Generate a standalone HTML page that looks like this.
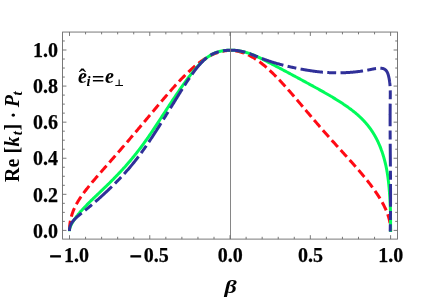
<!DOCTYPE html>
<html><head><meta charset="utf-8"><title>plot</title>
<style>
html,body{margin:0;padding:0;background:#fff;}
body{width:429px;height:298px;overflow:hidden;}
svg{display:block;}
.it{font-style:italic;}
</style></head><body>
<svg width="429" height="298" viewBox="0 0 429 298">
<rect width="429" height="298" fill="#fff"/>
<g fill="none" stroke-linecap="butt" stroke-linejoin="round">
<path d="M69.50,231.40 L69.50,230.40 L69.50,229.92 L69.51,229.44 L69.52,228.96 L69.54,228.48 L69.56,228.00 L69.58,227.52 L69.61,227.04 L69.64,226.56 L69.68,226.08 L69.72,225.60 L69.77,225.12 L69.82,224.64 L69.87,224.17 L69.93,223.69 L70.00,223.21 L70.06,222.74 L70.14,222.26 L70.21,221.78 L70.30,221.31 L70.38,220.84 L70.47,220.36 L70.57,219.89 L70.67,219.42 L70.77,218.95 L70.88,218.48 L70.99,218.01 L71.11,217.54 L71.23,217.07 L71.35,216.61 L71.48,216.14 L71.62,215.67 L71.76,215.21 L71.90,214.74 L72.05,214.28 L72.20,213.82 L72.35,213.36 L72.51,212.90 L72.68,212.44 L72.85,211.98 L73.02,211.52 L73.20,211.06 L73.38,210.60 L73.57,210.15 L73.76,209.69 L73.95,209.23 L74.15,208.78 L74.35,208.32 L74.56,207.87 L74.77,207.42 L74.99,206.96 L75.21,206.51 L75.43,206.06 L75.66,205.61 L75.90,205.16 L76.13,204.70 L76.38,204.25 L76.62,203.80 L76.87,203.35 L77.13,202.90 L77.38,202.45 L77.65,201.99 L77.91,201.54 L78.18,201.09 L78.46,200.64 L78.74,200.19 L79.02,199.73 L79.31,199.28 L79.60,198.82 L79.90,198.37 L80.20,197.91 L80.50,197.46 L80.81,197.00 L81.12,196.54 L81.44,196.08 L81.76,195.62 L82.09,195.16 L82.42,194.70 L82.75,194.24 L83.08,193.77 L83.43,193.31 L83.77,192.84 L84.12,192.37 L84.47,191.90 L84.83,191.43 L85.19,190.95 L85.56,190.48 L85.93,190.00 L86.30,189.52 L86.68,189.04 L87.06,188.55 L87.44,188.07 L87.83,187.58 L88.22,187.09 L88.62,186.60 L89.02,186.11 L89.42,185.61 L89.83,185.11 L90.24,184.61 L90.66,184.10 L91.08,183.60 L91.50,183.09 L91.93,182.58 L92.36,182.06 L92.80,181.54 L93.24,181.02 L93.68,180.50 L94.12,179.97 L94.57,179.45 L95.03,178.91 L95.49,178.38 L95.95,177.84 L96.41,177.30 L96.88,176.75 L97.35,176.21 L97.83,175.66 L98.31,175.10 L98.79,174.54 L99.28,173.98 L99.77,173.42 L100.26,172.85 L100.76,172.28 L101.26,171.71 L101.76,171.13 L102.27,170.55 L102.78,169.96 L103.30,169.37 L103.82,168.78 L104.34,168.19 L104.87,167.59 L105.39,166.98 L105.93,166.38 L106.46,165.77 L107.00,165.15 L107.54,164.53 L108.09,163.91 L108.64,163.29 L109.19,162.66 L109.75,162.02 L110.31,161.39 L110.87,160.75 L111.44,160.10 L112.00,159.45 L112.58,158.80 L113.15,158.15 L113.73,157.48 L114.31,156.82 L114.90,156.15 L115.49,155.48 L116.08,154.80 L116.67,154.12 L117.27,153.44 L117.87,152.75 L118.48,152.06 L119.08,151.36 L119.69,150.66 L120.31,149.96 L120.92,149.25 L121.54,148.54 L122.16,147.82 L122.79,147.10 L123.42,146.38 L124.05,145.65 L124.68,144.91 L125.32,144.18 L125.96,143.43 L126.60,142.69 L127.25,141.94 L127.89,141.19 L128.54,140.43 L129.20,139.66 L129.85,138.90 L130.51,138.13 L131.18,137.35 L131.84,136.58 L132.51,135.79 L133.18,135.01 L133.85,134.22 L134.53,133.42 L135.20,132.62 L135.89,131.82 L136.57,131.01 L137.25,130.20 L137.94,129.39 L138.63,128.57 L139.33,127.75 L140.02,126.92 L140.72,126.09 L141.42,125.26 L142.13,124.42 L142.83,123.58 L143.54,122.74 L144.25,121.89 L144.96,121.04 L145.68,120.18 L146.40,119.33 L147.12,118.46 L147.84,117.60 L148.56,116.73 L149.29,115.87 L150.02,114.99 L150.75,114.12 L151.48,113.24 L152.22,112.36 L152.96,111.48 L153.70,110.59 L154.44,109.71 L155.18,108.82 L155.93,107.93 L156.67,107.04 L157.42,106.14 L158.18,105.25 L158.93,104.35 L159.69,103.46 L160.44,102.56 L161.20,101.66 L161.97,100.76 L162.73,99.86 L163.49,98.96 L164.26,98.06 L165.03,97.17 L165.80,96.27 L166.57,95.37 L167.35,94.47 L168.12,93.58 L168.90,92.69 L169.68,91.79 L170.46,90.90 L171.25,90.02 L172.03,89.13 L172.82,88.25 L173.60,87.37 L174.39,86.49 L175.18,85.62 L175.97,84.75 L176.77,83.88 L177.56,83.02 L178.36,82.17 L179.16,81.32 L179.96,80.47 L180.76,79.63 L181.56,78.80 L182.36,77.97 L183.17,77.14 L183.97,76.33 L184.78,75.52 L185.59,74.72 L186.40,73.93 L187.21,73.14 L188.02,72.37 L188.84,71.60 L189.65,70.84 L190.47,70.09 L191.28,69.35 L192.10,68.62 L192.92,67.90 L193.74,67.19 L194.56,66.49 L195.38,65.80 L196.20,65.12 L197.03,64.46 L197.85,63.80 L198.68,63.16 L199.50,62.54 L200.33,61.92 L201.16,61.32 L201.99,60.73 L202.82,60.16 L203.65,59.60 L204.48,59.05 L205.31,58.52 L206.14,58.01 L206.97,57.50 L207.81,57.02 L208.64,56.55 L209.48,56.10 L210.31,55.66 L211.15,55.24 L211.98,54.83 L212.82,54.44 L213.66,54.07 L214.50,53.72 L215.33,53.38 L216.17,53.07 L217.01,52.77 L217.85,52.48 L218.69,52.22 L219.53,51.97 L220.37,51.74 L221.21,51.54 L222.05,51.34 L222.90,51.17 L223.74,51.02 L224.58,50.89 L225.42,50.77 L226.26,50.68 L227.10,50.60 L227.94,50.54 L228.79,50.50 L229.63,50.48 L230.47,50.48 L231.31,50.50 L232.16,50.54 L233.00,50.60 L233.84,50.68 L234.68,50.78 L235.52,50.89 L236.36,51.03 L237.20,51.18 L238.05,51.35 L238.89,51.55 L239.73,51.76 L240.57,51.99 L241.41,52.23 L242.25,52.50 L243.09,52.79 L243.93,53.09 L244.77,53.41 L245.60,53.75 L246.44,54.11 L247.28,54.48 L248.12,54.87 L248.95,55.28 L249.79,55.71 L250.62,56.15 L251.46,56.61 L252.29,57.08 L253.13,57.57 L253.96,58.08 L254.79,58.60 L255.62,59.14 L256.45,59.69 L257.28,60.26 L258.11,60.84 L258.94,61.43 L259.77,62.04 L260.60,62.66 L261.42,63.30 L262.25,63.95 L263.07,64.61 L263.90,65.28 L264.72,65.97 L265.54,66.67 L266.36,67.37 L267.18,68.09 L268.00,68.82 L268.82,69.56 L269.63,70.31 L270.45,71.07 L271.26,71.84 L272.08,72.62 L272.89,73.41 L273.70,74.20 L274.51,75.01 L275.32,75.82 L276.13,76.64 L276.93,77.46 L277.74,78.29 L278.54,79.13 L279.34,79.98 L280.14,80.83 L280.94,81.68 L281.74,82.54 L282.54,83.40 L283.33,84.27 L284.13,85.15 L284.92,86.02 L285.71,86.90 L286.50,87.79 L287.28,88.67 L288.07,89.56 L288.85,90.45 L289.64,91.35 L290.42,92.24 L291.20,93.14 L291.98,94.03 L292.75,94.93 L293.53,95.83 L294.30,96.73 L295.07,97.63 L295.84,98.53 L296.61,99.43 L297.37,100.32 L298.13,101.22 L298.90,102.12 L299.66,103.01 L300.41,103.91 L301.17,104.80 L301.92,105.69 L302.68,106.58 L303.43,107.46 L304.17,108.35 L304.92,109.23 L305.66,110.11 L306.40,110.98 L307.14,111.86 L307.88,112.73 L308.62,113.59 L309.35,114.46 L310.08,115.32 L310.81,116.17 L311.54,117.03 L312.26,117.88 L312.98,118.72 L313.70,119.56 L314.42,120.40 L315.14,121.24 L315.85,122.07 L316.56,122.89 L317.27,123.71 L317.97,124.53 L318.68,125.34 L319.38,126.15 L320.08,126.95 L320.77,127.75 L321.47,128.55 L322.16,129.34 L322.85,130.13 L323.53,130.91 L324.21,131.69 L324.90,132.46 L325.57,133.23 L326.25,133.99 L326.92,134.75 L327.59,135.51 L328.26,136.26 L328.92,137.01 L329.59,137.75 L330.25,138.49 L330.90,139.22 L331.56,139.95 L332.21,140.68 L332.85,141.40 L333.50,142.12 L334.14,142.83 L334.78,143.54 L335.42,144.25 L336.05,144.95 L336.68,145.65 L337.31,146.34 L337.94,147.03 L338.56,147.72 L339.18,148.40 L339.79,149.08 L340.41,149.76 L341.02,150.43 L341.62,151.10 L342.23,151.76 L342.83,152.42 L343.43,153.08 L344.02,153.74 L344.61,154.39 L345.20,155.04 L345.79,155.69 L346.37,156.33 L346.95,156.97 L347.52,157.61 L348.10,158.24 L348.66,158.87 L349.23,159.50 L349.79,160.13 L350.35,160.75 L350.91,161.37 L351.46,161.99 L352.01,162.60 L352.56,163.22 L353.10,163.83 L353.64,164.44 L354.17,165.04 L354.71,165.65 L355.23,166.25 L355.76,166.85 L356.28,167.44 L356.80,168.04 L357.32,168.63 L357.83,169.22 L358.34,169.81 L358.84,170.40 L359.34,170.98 L359.84,171.56 L360.33,172.14 L360.82,172.72 L361.31,173.30 L361.79,173.87 L362.27,174.44 L362.75,175.01 L363.22,175.58 L363.69,176.15 L364.15,176.71 L364.61,177.27 L365.07,177.84 L365.53,178.40 L365.98,178.95 L366.42,179.51 L366.86,180.06 L367.30,180.61 L367.74,181.16 L368.17,181.71 L368.60,182.26 L369.02,182.81 L369.44,183.35 L369.86,183.89 L370.27,184.43 L370.68,184.97 L371.08,185.50 L371.48,186.04 L371.88,186.57 L372.27,187.10 L372.66,187.63 L373.04,188.16 L373.42,188.69 L373.80,189.21 L374.17,189.74 L374.54,190.26 L374.91,190.78 L375.27,191.30 L375.63,191.81 L375.98,192.33 L376.33,192.84 L376.67,193.35 L377.02,193.86 L377.35,194.37 L377.68,194.88 L378.01,195.38 L378.34,195.89 L378.66,196.39 L378.98,196.89 L379.29,197.39 L379.60,197.88 L379.90,198.38 L380.20,198.87 L380.50,199.37 L380.79,199.86 L381.08,200.35 L381.36,200.84 L381.64,201.32 L381.92,201.81 L382.19,202.29 L382.45,202.78 L382.72,203.26 L382.97,203.74 L383.23,204.22 L383.48,204.69 L383.72,205.17 L383.97,205.65 L384.20,206.12 L384.44,206.59 L384.67,207.06 L384.89,207.53 L385.11,208.00 L385.33,208.47 L385.54,208.93 L385.75,209.40 L385.95,209.86 L386.15,210.33 L386.34,210.79 L386.53,211.25 L386.72,211.71 L386.90,212.17 L387.08,212.62 L387.25,213.08 L387.42,213.54 L387.59,213.99 L387.75,214.44 L387.90,214.90 L388.05,215.35 L388.20,215.80 L388.34,216.25 L388.48,216.70 L388.62,217.15 L388.75,217.60 L388.87,218.05 L388.99,218.49 L389.11,218.94 L389.22,219.39 L389.33,219.83 L389.43,220.28 L389.53,220.72 L389.63,221.16 L389.72,221.61 L389.80,222.05 L389.89,222.49 L389.96,222.93 L390.04,223.38 L390.10,223.82 L390.17,224.26 L390.23,224.70 L390.28,225.14 L390.33,225.58 L390.38,226.02 L390.42,226.45 L390.46,226.89 L390.49,227.33 L390.52,227.77 L390.54,228.21 L390.56,228.65 L390.58,229.09 L390.59,229.52 L390.60,229.96 L390.60,230.40 L390.60,231.40" stroke="#ff0a14" stroke-width="3.0" stroke-dasharray="9.1 4.25" stroke-dashoffset="-1.55"/>
<path d="M69.50,231.30 L69.50,230.40 L69.50,230.30 L69.50,230.20 L69.51,230.09 L69.52,229.98 L69.52,229.88 L69.54,229.76 L69.55,229.65 L69.56,229.54 L69.58,229.42 L69.60,229.31 L69.62,229.19 L69.64,229.07 L69.67,228.94 L69.69,228.82 L69.72,228.69 L69.75,228.57 L69.78,228.44 L69.82,228.31 L69.85,228.17 L69.89,228.04 L69.93,227.91 L69.97,227.77 L70.02,227.63 L70.06,227.49 L70.11,227.35 L70.16,227.20 L70.21,227.06 L70.27,226.91 L70.32,226.77 L70.38,226.62 L70.44,226.47 L70.50,226.31 L70.57,226.16 L70.63,226.01 L70.70,225.85 L70.77,225.69 L70.84,225.53 L70.91,225.37 L70.99,225.21 L71.07,225.05 L71.15,224.88 L71.23,224.72 L71.31,224.55 L71.39,224.38 L71.48,224.21 L71.57,224.04 L71.66,223.87 L71.75,223.69 L71.85,223.52 L71.94,223.34 L72.04,223.16 L72.14,222.99 L72.25,222.81 L72.35,222.63 L72.46,222.44 L72.56,222.26 L72.67,222.08 L72.79,221.89 L72.90,221.71 L73.02,221.52 L73.13,221.33 L73.25,221.14 L73.38,220.95 L73.50,220.76 L73.62,220.56 L73.75,220.37 L73.88,220.18 L74.01,219.98 L74.14,219.78 L74.28,219.59 L74.42,219.39 L74.56,219.19 L74.70,218.99 L74.84,218.78 L74.98,218.58 L75.13,218.38 L75.28,218.17 L75.43,217.97 L75.58,217.76 L75.73,217.55 L75.89,217.34 L76.05,217.13 L76.21,216.92 L76.37,216.71 L76.53,216.50 L76.70,216.28 L76.86,216.07 L77.03,215.85 L77.20,215.64 L77.38,215.42 L77.55,215.20 L77.73,214.98 L77.90,214.76 L78.08,214.54 L78.27,214.32 L78.45,214.09 L78.64,213.87 L78.82,213.64 L79.01,213.42 L79.20,213.19 L79.40,212.96 L79.59,212.73 L79.79,212.50 L79.99,212.27 L80.19,212.04 L80.39,211.81 L80.59,211.57 L80.80,211.34 L81.01,211.10 L81.22,210.87 L81.43,210.63 L81.64,210.39 L81.86,210.15 L82.07,209.91 L82.29,209.67 L82.51,209.43 L82.73,209.19 L82.96,208.94 L83.18,208.70 L83.41,208.45 L83.64,208.21 L83.87,207.96 L84.10,207.71 L84.34,207.46 L84.58,207.21 L84.81,206.96 L85.05,206.71 L85.30,206.46 L85.54,206.20 L85.78,205.95 L86.03,205.69 L86.28,205.44 L86.53,205.18 L86.78,204.92 L87.04,204.66 L87.29,204.40 L87.55,204.14 L87.81,203.88 L88.07,203.62 L88.33,203.36 L88.60,203.09 L88.86,202.83 L89.13,202.56 L89.40,202.30 L89.67,202.03 L89.95,201.76 L90.22,201.49 L90.50,201.22 L90.78,200.95 L91.06,200.68 L91.34,200.40 L91.62,200.13 L91.91,199.85 L92.19,199.58 L92.48,199.30 L92.77,199.02 L93.06,198.74 L93.36,198.46 L93.65,198.17 L93.95,197.89 L94.25,197.61 L94.55,197.32 L94.85,197.03 L95.15,196.74 L95.46,196.45 L95.76,196.16 L96.07,195.87 L96.38,195.57 L96.69,195.27 L97.01,194.98 L97.32,194.68 L97.64,194.38 L97.96,194.07 L98.28,193.77 L98.60,193.46 L98.92,193.16 L99.25,192.85 L99.57,192.54 L99.90,192.23 L100.23,191.91 L100.56,191.60 L100.89,191.28 L101.23,190.96 L101.56,190.64 L101.90,190.32 L102.24,190.00 L102.58,189.67 L102.92,189.34 L103.26,189.01 L103.61,188.68 L103.95,188.35 L104.30,188.01 L104.65,187.68 L105.00,187.34 L105.36,187.00 L105.71,186.66 L106.07,186.31 L106.42,185.96 L106.78,185.61 L107.14,185.26 L107.50,184.91 L107.87,184.55 L108.23,184.20 L108.60,183.84 L108.97,183.48 L109.33,183.11 L109.71,182.75 L110.08,182.38 L110.45,182.01 L110.83,181.63 L111.20,181.26 L111.58,180.88 L111.96,180.50 L112.34,180.12 L112.72,179.73 L113.11,179.35 L113.49,178.96 L113.88,178.57 L114.27,178.17 L114.66,177.77 L115.05,177.37 L115.44,176.97 L115.83,176.57 L116.23,176.16 L116.62,175.75 L117.02,175.34 L117.42,174.92 L117.82,174.50 L118.22,174.08 L118.63,173.66 L119.03,173.23 L119.44,172.80 L119.84,172.37 L120.25,171.93 L120.66,171.49 L121.07,171.05 L121.49,170.60 L121.90,170.15 L122.32,169.70 L122.73,169.25 L123.15,168.79 L123.57,168.33 L123.99,167.86 L124.41,167.39 L124.84,166.92 L125.26,166.44 L125.69,165.97 L126.11,165.48 L126.54,165.00 L126.97,164.51 L127.40,164.01 L127.83,163.52 L128.27,163.02 L128.70,162.51 L129.14,162.00 L129.57,161.49 L130.01,160.98 L130.45,160.46 L130.89,159.93 L131.33,159.40 L131.78,158.87 L132.22,158.34 L132.67,157.80 L133.11,157.25 L133.56,156.71 L134.01,156.15 L134.46,155.60 L134.91,155.04 L135.36,154.47 L135.82,153.90 L136.27,153.33 L136.73,152.75 L137.19,152.17 L137.64,151.58 L138.10,150.99 L138.56,150.40 L139.02,149.80 L139.49,149.19 L139.95,148.58 L140.42,147.97 L140.88,147.35 L141.35,146.73 L141.82,146.10 L142.29,145.47 L142.76,144.83 L143.23,144.19 L143.70,143.54 L144.17,142.89 L144.65,142.23 L145.12,141.57 L145.60,140.90 L146.08,140.23 L146.56,139.55 L147.04,138.87 L147.52,138.18 L148.00,137.49 L148.48,136.79 L148.97,136.09 L149.45,135.39 L149.94,134.68 L150.42,133.97 L150.91,133.25 L151.40,132.53 L151.89,131.81 L152.38,131.08 L152.87,130.35 L153.36,129.61 L153.86,128.87 L154.35,128.13 L154.85,127.39 L155.34,126.64 L155.84,125.89 L156.34,125.13 L156.84,124.38 L157.34,123.62 L157.84,122.85 L158.34,122.09 L158.84,121.32 L159.34,120.56 L159.85,119.79 L160.35,119.01 L160.86,118.24 L161.37,117.46 L161.87,116.68 L162.38,115.90 L162.89,115.12 L163.40,114.34 L163.91,113.56 L164.42,112.77 L164.94,111.99 L165.45,111.20 L165.96,110.41 L166.48,109.62 L166.99,108.83 L167.51,108.04 L168.03,107.25 L168.55,106.46 L169.06,105.67 L169.58,104.88 L170.10,104.09 L170.62,103.30 L171.15,102.51 L171.67,101.72 L172.19,100.93 L172.71,100.14 L173.24,99.35 L173.76,98.56 L174.29,97.78 L174.82,96.99 L175.34,96.20 L175.87,95.42 L176.40,94.64 L176.93,93.86 L177.46,93.08 L177.99,92.30 L178.52,91.52 L179.05,90.74 L179.58,89.97 L180.12,89.20 L180.65,88.43 L181.18,87.66 L181.72,86.90 L182.25,86.14 L182.79,85.38 L183.33,84.62 L183.86,83.87 L184.40,83.11 L184.94,82.36 L185.48,81.62 L186.02,80.88 L186.56,80.14 L187.10,79.40 L187.64,78.67 L188.18,77.95 L188.72,77.23 L189.26,76.51 L189.81,75.80 L190.35,75.10 L190.89,74.40 L191.44,73.70 L191.98,73.01 L192.53,72.33 L193.08,71.66 L193.62,70.99 L194.17,70.33 L194.72,69.68 L195.26,69.03 L195.81,68.40 L196.36,67.77 L196.91,67.15 L197.46,66.53 L198.01,65.93 L198.56,65.34 L199.11,64.75 L199.66,64.18 L200.21,63.61 L200.76,63.06 L201.31,62.51 L201.86,61.98 L202.42,61.46 L202.97,60.95 L203.52,60.45 L204.08,59.96 L204.63,59.48 L205.18,59.02 L205.74,58.56 L206.29,58.13 L206.85,57.70 L207.40,57.28 L207.96,56.88 L208.51,56.50 L209.07,56.13 L209.63,55.77 L210.18,55.42 L210.74,55.09 L211.30,54.77 L211.86,54.47 L212.41,54.18 L212.97,53.90 L213.53,53.63 L214.09,53.38 L214.64,53.14 L215.20,52.91 L215.76,52.69 L216.32,52.48 L216.88,52.29 L217.44,52.10 L218.00,51.92 L218.56,51.76 L219.12,51.60 L219.68,51.46 L220.24,51.32 L220.80,51.19 L221.36,51.08 L221.92,50.97 L222.48,50.86 L223.04,50.77 L223.60,50.68 L224.16,50.61 L224.72,50.54 L225.28,50.47 L225.84,50.41 L226.40,50.36 L226.96,50.32 L227.53,50.28 L228.09,50.25 L228.65,50.23 L229.21,50.21 L229.77,50.19 L230.33,50.19 L230.89,50.19 L231.45,50.19 L232.01,50.21 L232.57,50.23 L233.14,50.25 L233.70,50.28 L234.26,50.32 L234.82,50.36 L235.38,50.41 L235.94,50.46 L236.50,50.52 L237.06,50.59 L237.62,50.66 L238.18,50.74 L238.74,50.82 L239.30,50.91 L239.86,51.01 L240.42,51.11 L240.98,51.22 L241.54,51.33 L242.10,51.45 L242.66,51.57 L243.22,51.70 L243.78,51.83 L244.34,51.97 L244.90,52.12 L245.46,52.27 L246.01,52.43 L246.57,52.59 L247.13,52.76 L247.69,52.93 L248.24,53.11 L248.80,53.29 L249.36,53.48 L249.92,53.67 L250.47,53.87 L251.03,54.07 L251.59,54.28 L252.14,54.49 L252.70,54.71 L253.25,54.94 L253.81,55.16 L254.36,55.39 L254.92,55.63 L255.47,55.87 L256.02,56.11 L256.58,56.36 L257.13,56.61 L257.68,56.86 L258.24,57.12 L258.79,57.38 L259.34,57.64 L259.89,57.91 L260.44,58.17 L260.99,58.44 L261.54,58.72 L262.09,58.99 L262.64,59.26 L263.19,59.54 L263.74,59.82 L264.29,60.10 L264.84,60.38 L265.38,60.66 L265.93,60.95 L266.48,61.23 L267.02,61.51 L267.57,61.80 L268.12,62.08 L268.66,62.37 L269.21,62.65 L269.75,62.94 L270.29,63.22 L270.84,63.51 L271.38,63.79 L271.92,64.07 L272.46,64.36 L273.00,64.64 L273.54,64.93 L274.08,65.21 L274.62,65.49 L275.16,65.78 L275.70,66.06 L276.24,66.35 L276.77,66.63 L277.31,66.91 L277.85,67.20 L278.38,67.48 L278.92,67.76 L279.45,68.05 L279.98,68.33 L280.52,68.61 L281.05,68.89 L281.58,69.18 L282.11,69.46 L282.64,69.74 L283.17,70.02 L283.70,70.30 L284.23,70.58 L284.76,70.87 L285.28,71.15 L285.81,71.43 L286.34,71.71 L286.86,71.99 L287.39,72.27 L287.91,72.55 L288.43,72.83 L288.95,73.11 L289.48,73.39 L290.00,73.67 L290.52,73.95 L291.04,74.23 L291.55,74.50 L292.07,74.78 L292.59,75.06 L293.11,75.34 L293.62,75.62 L294.14,75.89 L294.65,76.17 L295.16,76.45 L295.68,76.72 L296.19,77.00 L296.70,77.27 L297.21,77.55 L297.72,77.82 L298.23,78.10 L298.73,78.37 L299.24,78.65 L299.75,78.92 L300.25,79.19 L300.76,79.47 L301.26,79.74 L301.76,80.01 L302.26,80.29 L302.76,80.56 L303.26,80.83 L303.76,81.10 L304.26,81.37 L304.76,81.64 L305.25,81.91 L305.75,82.18 L306.24,82.45 L306.74,82.72 L307.23,82.98 L307.72,83.25 L308.21,83.52 L308.70,83.79 L309.19,84.05 L309.68,84.32 L310.16,84.59 L310.65,84.85 L311.13,85.12 L311.62,85.38 L312.10,85.64 L312.58,85.91 L313.06,86.17 L313.54,86.44 L314.02,86.70 L314.50,86.96 L314.98,87.22 L315.45,87.49 L315.93,87.75 L316.40,88.01 L316.87,88.27 L317.34,88.53 L317.81,88.79 L318.28,89.05 L318.75,89.31 L319.22,89.58 L319.68,89.84 L320.15,90.10 L320.61,90.35 L321.08,90.61 L321.54,90.87 L322.00,91.13 L322.46,91.39 L322.91,91.65 L323.37,91.91 L323.83,92.17 L324.28,92.43 L324.74,92.69 L325.19,92.95 L325.64,93.20 L326.09,93.46 L326.54,93.72 L326.99,93.98 L327.43,94.24 L327.88,94.50 L328.32,94.75 L328.77,95.01 L329.21,95.27 L329.65,95.53 L330.09,95.79 L330.53,96.05 L330.96,96.31 L331.40,96.56 L331.83,96.82 L332.27,97.08 L332.70,97.34 L333.13,97.60 L333.56,97.86 L333.99,98.12 L334.41,98.38 L334.84,98.64 L335.26,98.90 L335.69,99.16 L336.11,99.42 L336.53,99.68 L336.95,99.94 L337.37,100.20 L337.78,100.46 L338.20,100.72 L338.61,100.98 L339.03,101.24 L339.44,101.50 L339.85,101.76 L340.26,102.03 L340.66,102.29 L341.07,102.55 L341.47,102.81 L341.88,103.08 L342.28,103.34 L342.68,103.60 L343.08,103.87 L343.48,104.13 L343.87,104.40 L344.27,104.66 L344.66,104.93 L345.05,105.20 L345.44,105.46 L345.83,105.73 L346.22,106.00 L346.61,106.27 L346.99,106.54 L347.38,106.81 L347.76,107.08 L348.14,107.35 L348.52,107.62 L348.90,107.89 L349.27,108.17 L349.65,108.44 L350.02,108.72 L350.39,108.99 L350.77,109.27 L351.13,109.55 L351.50,109.83 L351.87,110.10 L352.23,110.39 L352.60,110.67 L352.96,110.95 L353.32,111.23 L353.68,111.52 L354.03,111.80 L354.39,112.09 L354.74,112.38 L355.10,112.67 L355.45,112.96 L355.80,113.25 L356.15,113.55 L356.49,113.84 L356.84,114.14 L357.18,114.43 L357.52,114.73 L357.86,115.03 L358.20,115.33 L358.54,115.64 L358.87,115.94 L359.21,116.25 L359.54,116.55 L359.87,116.86 L360.20,117.17 L360.53,117.49 L360.85,117.80 L361.18,118.11 L361.50,118.43 L361.82,118.75 L362.14,119.07 L362.46,119.39 L362.78,119.72 L363.09,120.04 L363.41,120.37 L363.72,120.70 L364.03,121.03 L364.34,121.37 L364.64,121.70 L364.95,122.04 L365.25,122.38 L365.55,122.72 L365.85,123.06 L366.15,123.41 L366.45,123.76 L366.74,124.11 L367.04,124.46 L367.33,124.81 L367.62,125.17 L367.91,125.53 L368.19,125.89 L368.48,126.25 L368.76,126.61 L369.04,126.98 L369.32,127.35 L369.60,127.72 L369.88,128.10 L370.15,128.48 L370.43,128.86 L370.70,129.24 L370.97,129.62 L371.24,130.01 L371.50,130.40 L371.77,130.79 L372.03,131.18 L372.29,131.58 L372.55,131.98 L372.81,132.38 L373.06,132.78 L373.32,133.19 L373.57,133.60 L373.82,134.01 L374.07,134.43 L374.32,134.85 L374.56,135.27 L374.80,135.69 L375.05,136.11 L375.29,136.54 L375.52,136.97 L375.76,137.41 L376.00,137.84 L376.23,138.28 L376.46,138.72 L376.69,139.17 L376.92,139.62 L377.14,140.07 L377.37,140.52 L377.59,140.98 L377.81,141.44 L378.03,141.90 L378.24,142.36 L378.46,142.83 L378.67,143.30 L378.88,143.78 L379.09,144.25 L379.30,144.73 L379.51,145.21 L379.71,145.70 L379.91,146.19 L380.11,146.68 L380.31,147.18 L380.51,147.68 L380.70,148.18 L380.90,148.68 L381.09,149.19 L381.28,149.70 L381.46,150.22 L381.65,150.73 L381.83,151.25 L382.02,151.78 L382.20,152.31 L382.37,152.84 L382.55,153.37 L382.72,153.91 L382.90,154.45 L383.07,154.99 L383.24,155.54 L383.40,156.09 L383.57,156.64 L383.73,157.20 L383.89,157.76 L384.05,158.33 L384.21,158.90 L384.37,159.47 L384.52,160.04 L384.67,160.62 L384.82,161.20 L384.97,161.79 L385.12,162.38 L385.26,162.97 L385.40,163.57 L385.54,164.17 L385.68,164.78 L385.82,165.39 L385.96,166.01 L386.09,166.63 L386.22,167.26 L386.35,167.90 L386.48,168.54 L386.60,169.18 L386.72,169.84 L386.85,170.50 L386.97,171.17 L387.08,171.84 L387.20,172.52 L387.31,173.21 L387.43,173.91 L387.54,174.61 L387.64,175.33 L387.75,176.05 L387.85,176.78 L387.96,177.52 L388.06,178.27 L388.16,179.03 L388.25,179.80 L388.35,180.58 L388.44,181.37 L388.53,182.16 L388.62,182.97 L388.71,183.79 L388.79,184.62 L388.87,185.47 L388.95,186.32 L389.03,187.18 L389.11,188.05 L389.19,188.93 L389.26,189.81 L389.33,190.70 L389.40,191.59 L389.47,192.49 L389.53,193.39 L389.60,194.29 L389.66,195.19 L389.72,196.09 L389.78,196.99 L389.83,197.89 L389.89,198.79 L389.94,199.68 L389.99,200.57 L390.04,201.45 L390.08,202.32 L390.13,203.19 L390.17,204.05 L390.21,204.90 L390.25,205.74 L390.28,206.59 L390.32,207.44 L390.35,208.30 L390.38,209.19 L390.41,210.10 L390.43,211.06 L390.46,212.06 L390.48,213.11 L390.50,214.23 L390.52,215.41 L390.54,216.67 L390.55,218.01 L390.56,219.44 L390.58,220.98 L390.58,222.61 L390.59,224.37 L390.60,226.24 L390.60,228.25 L390.60,230.39 L390.60,232.00" stroke="#00fb5a" stroke-width="3.0"/>
<path d="M69.50,231.30 L69.50,230.40 L69.50,230.24 L69.50,230.08 L69.51,229.92 L69.51,229.76 L69.52,229.60 L69.53,229.44 L69.55,229.29 L69.56,229.13 L69.57,228.97 L69.59,228.82 L69.61,228.66 L69.63,228.50 L69.66,228.35 L69.68,228.19 L69.71,228.04 L69.74,227.88 L69.77,227.73 L69.80,227.58 L69.83,227.42 L69.87,227.27 L69.91,227.12 L69.95,226.97 L69.99,226.81 L70.03,226.66 L70.08,226.51 L70.12,226.36 L70.17,226.21 L70.22,226.06 L70.27,225.91 L70.33,225.76 L70.39,225.61 L70.44,225.46 L70.50,225.31 L70.56,225.16 L70.63,225.01 L70.69,224.86 L70.76,224.72 L70.83,224.57 L70.90,224.42 L70.97,224.27 L71.05,224.13 L71.12,223.98 L71.20,223.83 L71.28,223.69 L71.36,223.54 L71.45,223.40 L71.53,223.25 L71.62,223.10 L71.71,222.96 L71.80,222.81 L71.89,222.67 L71.99,222.53 L72.08,222.38 L72.18,222.24 L72.28,222.09 L72.38,221.95 L72.49,221.80 L72.59,221.66 L72.70,221.52 L72.81,221.37 L72.92,221.23 L73.03,221.09 L73.15,220.95 L73.26,220.80 L73.38,220.66 L73.50,220.52 L73.62,220.38 L73.74,220.23 L73.87,220.09 L74.00,219.95 L74.12,219.81 L74.26,219.67 L74.39,219.52 L74.52,219.38 L74.66,219.24 L74.80,219.10 L74.94,218.96 L75.08,218.81 L75.22,218.67 L75.36,218.53 L75.51,218.38 L75.66,218.24 L75.81,218.10 L75.96,217.95 L76.11,217.81 L76.27,217.66 L76.43,217.52 L76.59,217.37 L76.75,217.23 L76.91,217.08 L77.07,216.93 L77.24,216.78 L77.41,216.64 L77.58,216.49 L77.75,216.34 L77.92,216.19 L78.10,216.04 L78.27,215.89 L78.45,215.73 L78.63,215.58 L78.81,215.43 L79.00,215.27 L79.18,215.12 L79.37,214.96 L79.56,214.81 L79.75,214.65 L79.94,214.49 L80.13,214.33 L80.33,214.17 L80.53,214.01 L80.73,213.85 L80.93,213.68 L81.13,213.52 L81.33,213.36 L81.54,213.19 L81.75,213.02 L81.96,212.85 L82.17,212.68 L82.38,212.51 L82.59,212.34 L82.81,212.17 L83.03,211.99 L83.25,211.81 L83.47,211.64 L83.69,211.46 L83.92,211.28 L84.14,211.10 L84.37,210.91 L84.60,210.73 L84.83,210.54 L85.06,210.36 L85.30,210.17 L85.53,209.98 L85.77,209.78 L86.01,209.59 L86.25,209.40 L86.49,209.20 L86.74,209.00 L86.99,208.80 L87.23,208.60 L87.48,208.39 L87.73,208.19 L87.99,207.98 L88.24,207.77 L88.50,207.56 L88.75,207.35 L89.01,207.13 L89.27,206.92 L89.54,206.70 L89.80,206.48 L90.07,206.26 L90.33,206.03 L90.60,205.81 L90.87,205.58 L91.14,205.35 L91.42,205.12 L91.69,204.89 L91.97,204.66 L92.25,204.42 L92.53,204.18 L92.81,203.94 L93.09,203.70 L93.38,203.45 L93.66,203.21 L93.95,202.96 L94.24,202.71 L94.53,202.46 L94.82,202.21 L95.12,201.95 L95.41,201.70 L95.71,201.44 L96.01,201.18 L96.31,200.91 L96.61,200.65 L96.92,200.38 L97.22,200.11 L97.53,199.84 L97.83,199.57 L98.14,199.30 L98.46,199.02 L98.77,198.74 L99.08,198.46 L99.40,198.18 L99.71,197.89 L100.03,197.61 L100.35,197.32 L100.67,197.03 L101.00,196.74 L101.32,196.44 L101.65,196.15 L101.97,195.85 L102.30,195.55 L102.63,195.25 L102.97,194.94 L103.30,194.64 L103.63,194.33 L103.97,194.02 L104.31,193.70 L104.65,193.39 L104.99,193.07 L105.33,192.75 L105.67,192.43 L106.02,192.11 L106.36,191.79 L106.71,191.46 L107.06,191.13 L107.41,190.80 L107.76,190.47 L108.11,190.13 L108.47,189.79 L108.83,189.45 L109.18,189.11 L109.54,188.77 L109.90,188.42 L110.26,188.07 L110.63,187.72 L110.99,187.37 L111.36,187.02 L111.72,186.66 L112.09,186.30 L112.46,185.94 L112.83,185.58 L113.20,185.21 L113.58,184.84 L113.95,184.47 L114.33,184.10 L114.71,183.72 L115.09,183.34 L115.47,182.96 L115.85,182.58 L116.23,182.19 L116.62,181.80 L117.00,181.41 L117.39,181.02 L117.78,180.62 L118.17,180.22 L118.56,179.82 L118.95,179.41 L119.34,179.00 L119.74,178.59 L120.13,178.17 L120.53,177.75 L120.93,177.33 L121.33,176.91 L121.73,176.48 L122.13,176.05 L122.54,175.61 L122.94,175.18 L123.35,174.73 L123.75,174.29 L124.16,173.84 L124.57,173.39 L124.98,172.93 L125.40,172.47 L125.81,172.01 L126.22,171.55 L126.64,171.08 L127.06,170.60 L127.47,170.12 L127.89,169.64 L128.31,169.16 L128.73,168.67 L129.16,168.18 L129.58,167.68 L130.01,167.18 L130.43,166.67 L130.86,166.16 L131.29,165.65 L131.72,165.13 L132.15,164.61 L132.58,164.08 L133.01,163.55 L133.45,163.02 L133.88,162.48 L134.32,161.94 L134.75,161.39 L135.19,160.84 L135.63,160.28 L136.07,159.72 L136.51,159.15 L136.96,158.58 L137.40,158.01 L137.85,157.43 L138.29,156.84 L138.74,156.25 L139.19,155.66 L139.64,155.06 L140.09,154.45 L140.54,153.85 L140.99,153.23 L141.44,152.61 L141.90,151.99 L142.35,151.36 L142.81,150.72 L143.27,150.08 L143.72,149.44 L144.18,148.79 L144.64,148.14 L145.10,147.48 L145.57,146.82 L146.03,146.15 L146.49,145.48 L146.96,144.80 L147.43,144.12 L147.89,143.43 L148.36,142.75 L148.83,142.05 L149.30,141.35 L149.77,140.65 L150.24,139.95 L150.71,139.24 L151.19,138.52 L151.66,137.81 L152.14,137.08 L152.61,136.36 L153.09,135.63 L153.57,134.90 L154.05,134.16 L154.53,133.43 L155.01,132.68 L155.49,131.94 L155.97,131.19 L156.45,130.44 L156.94,129.68 L157.42,128.92 L157.91,128.16 L158.40,127.40 L158.88,126.63 L159.37,125.86 L159.86,125.09 L160.35,124.31 L160.84,123.53 L161.33,122.75 L161.82,121.97 L162.32,121.19 L162.81,120.40 L163.30,119.61 L163.80,118.82 L164.30,118.02 L164.79,117.22 L165.29,116.42 L165.79,115.62 L166.29,114.82 L166.79,114.02 L167.29,113.21 L167.79,112.40 L168.29,111.59 L168.79,110.78 L169.30,109.97 L169.80,109.15 L170.30,108.34 L170.81,107.52 L171.32,106.70 L171.82,105.88 L172.33,105.06 L172.84,104.23 L173.35,103.41 L173.86,102.59 L174.37,101.76 L174.88,100.93 L175.39,100.11 L175.90,99.28 L176.41,98.45 L176.93,97.62 L177.44,96.79 L177.95,95.96 L178.47,95.13 L178.98,94.30 L179.50,93.47 L180.02,92.63 L180.53,91.80 L181.05,90.97 L181.57,90.14 L182.09,89.32 L182.61,88.49 L183.13,87.67 L183.65,86.85 L184.17,86.03 L184.69,85.21 L185.21,84.40 L185.74,83.59 L186.26,82.78 L186.78,81.98 L187.31,81.19 L187.83,80.39 L188.36,79.61 L188.88,78.83 L189.41,78.05 L189.94,77.28 L190.46,76.51 L190.99,75.76 L191.52,75.01 L192.05,74.26 L192.58,73.53 L193.11,72.80 L193.64,72.08 L194.17,71.36 L194.70,70.66 L195.23,69.96 L195.76,69.28 L196.29,68.60 L196.82,67.93 L197.35,67.28 L197.89,66.63 L198.42,65.99 L198.95,65.37 L199.49,64.75 L200.02,64.15 L200.56,63.56 L201.09,62.98 L201.63,62.42 L202.16,61.86 L202.70,61.32 L203.24,60.79 L203.77,60.28 L204.31,59.78 L204.85,59.30 L205.38,58.82 L205.92,58.37 L206.46,57.93 L207.00,57.50 L207.54,57.09 L208.07,56.70 L208.61,56.32 L209.15,55.96 L209.69,55.61 L210.23,55.28 L210.77,54.97 L211.31,54.67 L211.85,54.39 L212.39,54.12 L212.93,53.87 L213.48,53.62 L214.02,53.39 L214.56,53.18 L215.10,52.97 L215.64,52.77 L216.18,52.58 L216.73,52.40 L217.27,52.23 L217.81,52.07 L218.35,51.92 L218.90,51.77 L219.44,51.63 L219.98,51.49 L220.53,51.37 L221.07,51.24 L221.61,51.13 L222.15,51.02 L222.70,50.92 L223.24,50.82 L223.79,50.74 L224.33,50.65 L224.87,50.58 L225.42,50.51 L225.96,50.44 L226.50,50.39 L227.05,50.34 L227.59,50.29 L228.14,50.26 L228.68,50.23 L229.22,50.20 L229.77,50.18 L230.31,50.17 L230.86,50.16 L231.40,50.16 L231.95,50.17 L232.49,50.18 L233.03,50.20 L233.58,50.23 L234.12,50.26 L234.66,50.30 L235.21,50.34 L235.75,50.39 L236.30,50.45 L236.84,50.51 L237.38,50.58 L237.93,50.65 L238.47,50.73 L239.01,50.82 L239.56,50.91 L240.10,51.01 L240.64,51.11 L241.19,51.22 L241.73,51.34 L242.27,51.46 L242.81,51.59 L243.36,51.72 L243.90,51.86 L244.44,52.00 L244.98,52.15 L245.52,52.31 L246.06,52.47 L246.61,52.64 L247.15,52.82 L247.69,52.99 L248.23,53.18 L248.77,53.37 L249.31,53.56 L249.85,53.76 L250.39,53.96 L250.93,54.16 L251.47,54.36 L252.01,54.57 L252.55,54.78 L253.08,55.00 L253.62,55.21 L254.16,55.43 L254.70,55.64 L255.24,55.86 L255.77,56.08 L256.31,56.30 L256.85,56.51 L257.38,56.73 L257.92,56.95 L258.45,57.16 L258.99,57.37 L259.53,57.59 L260.06,57.80 L260.59,58.00 L261.13,58.21 L261.66,58.41 L262.20,58.61 L262.73,58.81 L263.26,59.01 L263.79,59.20 L264.32,59.40 L264.86,59.59 L265.39,59.78 L265.92,59.96 L266.45,60.15 L266.98,60.33 L267.51,60.52 L268.04,60.70 L268.56,60.87 L269.09,61.05 L269.62,61.22 L270.15,61.40 L270.67,61.57 L271.20,61.74 L271.72,61.90 L272.25,62.07 L272.77,62.23 L273.30,62.40 L273.82,62.56 L274.35,62.72 L274.87,62.87 L275.39,63.03 L275.91,63.18 L276.43,63.33 L276.95,63.49 L277.47,63.63 L277.99,63.78 L278.51,63.93 L279.03,64.07 L279.55,64.22 L280.07,64.36 L280.58,64.50 L281.10,64.64 L281.61,64.77 L282.13,64.91 L282.64,65.04 L283.16,65.18 L283.67,65.31 L284.18,65.44 L284.70,65.57 L285.21,65.69 L285.72,65.82 L286.23,65.94 L286.74,66.07 L287.25,66.19 L287.75,66.31 L288.26,66.43 L288.77,66.55 L289.27,66.66 L289.78,66.78 L290.28,66.89 L290.79,67.01 L291.29,67.12 L291.79,67.23 L292.30,67.34 L292.80,67.45 L293.30,67.55 L293.80,67.66 L294.30,67.77 L294.79,67.87 L295.29,67.97 L295.79,68.07 L296.28,68.17 L296.78,68.27 L297.27,68.37 L297.77,68.47 L298.26,68.57 L298.75,68.66 L299.24,68.76 L299.73,68.85 L300.22,68.95 L300.71,69.04 L301.20,69.13 L301.69,69.22 L302.18,69.31 L302.66,69.40 L303.15,69.49 L303.63,69.57 L304.11,69.66 L304.60,69.74 L305.08,69.82 L305.56,69.91 L306.04,69.99 L306.52,70.07 L306.99,70.15 L307.47,70.23 L307.95,70.30 L308.42,70.38 L308.90,70.46 L309.37,70.53 L309.84,70.60 L310.31,70.68 L310.79,70.75 L311.26,70.82 L311.72,70.88 L312.19,70.95 L312.66,71.02 L313.12,71.08 L313.59,71.15 L314.05,71.21 L314.52,71.27 L314.98,71.33 L315.44,71.39 L315.90,71.45 L316.36,71.51 L316.82,71.56 L317.28,71.62 L317.73,71.67 L318.19,71.73 L318.64,71.78 L319.09,71.83 L319.55,71.88 L320.00,71.92 L320.45,71.97 L320.90,72.02 L321.35,72.06 L321.79,72.10 L322.24,72.14 L322.68,72.18 L323.13,72.22 L323.57,72.26 L324.01,72.30 L324.45,72.33 L324.89,72.37 L325.33,72.40 L325.77,72.43 L326.20,72.46 L326.64,72.49 L327.07,72.52 L327.51,72.54 L327.94,72.57 L328.37,72.59 L328.80,72.62 L329.23,72.64 L329.65,72.66 L330.08,72.68 L330.51,72.70 L330.93,72.71 L331.35,72.73 L331.77,72.74 L332.19,72.76 L332.61,72.77 L333.03,72.78 L333.45,72.79 L333.86,72.80 L334.28,72.81 L334.69,72.82 L335.10,72.82 L335.51,72.83 L335.92,72.83 L336.33,72.84 L336.74,72.84 L337.15,72.84 L337.55,72.84 L337.95,72.84 L338.36,72.84 L338.76,72.83 L339.16,72.83 L339.55,72.83 L339.95,72.82 L340.35,72.82 L340.74,72.81 L341.14,72.80 L341.53,72.79 L341.92,72.78 L342.31,72.77 L342.70,72.76 L343.08,72.75 L343.47,72.74 L343.85,72.72 L344.24,72.71 L344.62,72.69 L345.00,72.68 L345.73,72.64 L346.11,72.62 L346.48,72.60 L346.86,72.58 L347.24,72.56 L347.62,72.54 L348.00,72.52 L348.38,72.49 L348.76,72.47 L349.14,72.44 L349.52,72.42 L349.90,72.39 L350.28,72.36 L350.65,72.33 L351.03,72.30 L351.41,72.27 L351.79,72.24 L352.17,72.21 L352.55,72.17 L352.93,72.14 L353.31,72.10 L353.69,72.07 L354.06,72.03 L354.44,71.99 L354.82,71.95 L355.20,71.91 L355.58,71.87 L355.96,71.83 L356.34,71.79 L356.71,71.75 L357.09,71.70 L357.47,71.66 L357.85,71.61 L358.23,71.56 L358.60,71.52 L358.98,71.47 L359.36,71.42 L359.74,71.37 L360.11,71.32 L360.49,71.26 L360.87,71.21 L361.25,71.16 L361.62,71.10 L362.00,71.05 L362.38,70.99 L362.75,70.93 L363.13,70.87 L363.51,70.81 L363.88,70.75 L364.26,70.69 L364.64,70.63 L365.01,70.57 L365.39,70.51 L365.76,70.44 L366.14,70.38 L366.52,70.31 L366.89,70.24 L367.27,70.17 L367.64,70.10 L368.02,70.03 L368.39,69.96 L368.77,69.89 L369.14,69.82 L369.51,69.75 L369.89,69.67 L370.26,69.60 L370.64,69.52 L371.01,69.44 L371.38,69.37 L371.76,69.29 L372.13,69.21 L372.51,69.14 L372.88,69.06 L373.26,68.99 L373.63,68.92 L374.01,68.85 L374.39,68.78 L374.77,68.71 L375.15,68.65 L375.53,68.59 L375.91,68.54 L376.29,68.49 L376.68,68.44 L377.07,68.39 L377.46,68.36 L377.85,68.32 L378.24,68.29 L378.64,68.27 L379.03,68.25 L379.43,68.24 L379.84,68.24 L380.24,68.24 L380.65,68.26 L381.05,68.28 L381.46,68.31 L381.85,68.35 L382.25,68.40 L382.63,68.47 L383.00,68.56 L383.36,68.66 L383.70,68.79 L384.03,68.93 L384.34,69.08 L384.64,69.25 L384.92,69.44 L385.20,69.65 L385.46,69.86 L385.71,70.10 L385.94,70.34 L386.17,70.60 L386.38,70.87 L386.58,71.15 L386.78,71.44 L386.96,71.74 L387.13,72.05 L387.30,72.37 L387.46,72.70 L387.60,73.04 L387.74,73.38 L387.88,73.73 L388.00,74.09 L388.12,74.45 L388.24,74.81 L388.35,75.18 L388.45,75.56 L388.54,75.93 L388.64,76.31 L388.73,76.69 L388.81,77.07 L388.89,77.46 L388.97,77.84 L389.05,78.22 L389.12,78.60 L389.19,78.98 L389.26,79.36 L389.32,79.74 L389.38,80.12 L389.44,80.50 L389.50,80.89 L389.55,81.27 L389.61,81.65 L389.66,82.03 L389.70,82.41 L389.75,82.79 L389.79,83.17 L389.83,83.54 L389.87,83.92 L389.91,84.30 L389.94,84.68 L389.97,85.06 L390.00,85.44 L390.03,85.82 L390.06,86.20 L390.08,86.58 L390.11,86.96 L390.13,87.33 L390.15,87.71 L390.17,88.09 L390.18,88.47 L390.20,88.85 L390.21,89.23 L390.23,89.60 L390.24,89.98 L390.25,90.36 L390.26,90.74 L390.26,91.12 L390.27,91.49 L390.27,91.87 L390.28,92.25 L390.28,92.63 L390.29,93.01 L390.29,93.38 L390.29,93.76 L390.29,94.14 L390.29,94.52 L390.29,94.89 L390.29,95.27 L390.28,95.65 L390.28,96.03 L390.28,96.40 L390.27,96.78 L390.27,97.16 L390.27,97.53 L390.26,97.91 L390.26,98.29 L390.25,98.67 L390.25,99.04 L390.24,99.42 L390.24,99.80 L390.23,100.18 L390.23,100.55 L390.22,100.93 L390.22,101.31 L390.22,101.69 L390.21,102.06 L390.21,102.44 L390.20,102.82 L390.20,103.20 L390.20,103.57 L390.19,103.95 L390.19,104.33 L390.18,104.71 L390.18,105.08 L390.18,105.46 L390.17,105.84 L390.17,106.22 L390.17,106.60 L390.17,106.97 L390.16,107.35 L390.16,107.73 L390.16,108.11 L390.15,108.48 L390.15,108.86 L390.15,109.24 L390.15,109.62 L390.14,110.00 L390.14,110.37 L390.14,110.75 L390.14,111.13 L390.14,111.51 L390.13,111.89 L390.13,112.26 L390.13,112.64 L390.13,113.02 L390.13,113.40 L390.13,113.78 L390.13,114.15 L390.12,114.53 L390.12,114.91 L390.12,115.29 L390.12,115.67 L390.12,116.04 L390.12,116.42 L390.12,116.80 L390.12,117.18 L390.12,117.56 L390.12,117.93 L390.12,118.31 L390.12,118.69 L390.11,119.07 L390.11,119.45 L390.11,119.83 L390.11,120.20 L390.11,120.58 L390.11,120.96 L390.11,121.34 L390.11,121.72 L390.11,122.09 L390.11,122.47 L390.11,122.85 L390.11,123.23 L390.12,123.61 L390.12,123.99 L390.12,124.36 L390.12,124.74 L390.12,125.12 L390.12,125.50 L390.12,125.88 L390.12,126.26 L390.12,126.63 L390.12,127.01 L390.12,127.39 L390.12,127.77 L390.12,128.15 L390.13,128.53 L390.13,128.91 L390.13,129.28 L390.13,129.66 L390.13,130.04 L390.13,130.42 L390.13,130.80 L390.14,131.18 L390.14,131.56 L390.14,131.93 L390.14,132.31 L390.14,132.69 L390.14,133.07 L390.15,133.45 L390.15,133.83 L390.15,134.21 L390.15,134.58 L390.15,134.96 L390.15,135.34 L390.16,135.72 L390.16,136.10 L390.16,136.48 L390.16,136.86 L390.17,137.23 L390.17,137.61 L390.17,137.99 L390.17,138.37 L390.17,138.75 L390.18,139.13 L390.18,139.51 L390.18,139.89 L390.18,140.26 L390.19,140.64 L390.19,141.02 L390.19,141.40 L390.19,141.78 L390.20,142.16 L390.20,142.54 L390.20,142.92 L390.21,143.29 L390.21,143.67 L390.21,144.05 L390.21,144.43 L390.22,144.81 L390.22,145.19 L390.22,145.57 L390.23,145.95 L390.23,146.32 L390.23,146.70 L390.23,147.08 L390.24,147.46 L390.24,147.84 L390.24,148.22 L390.25,148.60 L390.25,148.98 L390.25,149.35 L390.26,149.73 L390.26,150.11 L390.26,150.49 L390.26,150.87 L390.27,151.25 L390.27,151.63 L390.27,152.01 L390.28,152.39 L390.28,152.76 L390.28,153.14 L390.29,153.52 L390.29,153.90 L390.29,154.28 L390.30,154.66 L390.30,155.04 L390.30,155.42 L390.31,155.80 L390.31,156.17 L390.31,156.55 L390.32,156.93 L390.32,157.31 L390.32,157.69 L390.33,158.07 L390.33,158.45 L390.33,158.83 L390.34,159.21 L390.34,159.58 L390.34,159.96 L390.35,160.34 L390.35,160.72 L390.35,161.10 L390.36,161.48 L390.36,161.86 L390.36,162.24 L390.37,162.62 L390.37,163.00 L390.37,163.37 L390.38,163.75 L390.38,164.13 L390.38,164.51 L390.39,164.89 L390.39,165.27 L390.39,165.65 L390.39,166.03 L390.40,166.41 L390.40,166.78 L390.40,167.16 L390.41,167.54 L390.41,167.92 L390.41,168.30 L390.42,168.68 L390.42,169.06 L390.42,169.44 L390.43,169.82 L390.43,170.20 L390.43,170.57 L390.43,170.95 L390.44,171.33 L390.44,171.71 L390.44,172.09 L390.45,172.47 L390.45,172.85 L390.45,173.23 L390.45,173.61 L390.46,173.98 L390.46,174.36 L390.46,174.74 L390.47,175.12 L390.47,175.50 L390.47,175.88 L390.47,176.26 L390.48,176.64 L390.48,177.02 L390.48,177.39 L390.48,177.77 L390.49,178.15 L390.49,178.53 L390.49,178.91 L390.49,179.29 L390.50,179.67 L390.50,180.05 L390.50,180.42 L390.50,180.80 L390.50,181.18 L390.51,181.56 L390.51,181.94 L390.51,182.32 L390.51,182.70 L390.51,183.08 L390.52,183.46 L390.52,183.83 L390.52,184.21 L390.52,184.59 L390.52,184.97 L390.53,185.35 L390.53,185.73 L390.53,186.11 L390.53,186.49 L390.53,186.86 L390.53,187.24 L390.53,187.62 L390.54,188.00 L390.54,188.38 L390.54,188.76 L390.54,189.14 L390.54,189.52 L390.54,189.89 L390.54,190.27 L390.54,190.65 L390.55,191.03 L390.55,191.41 L390.55,191.79 L390.55,192.17 L390.55,192.55 L390.55,192.92 L390.55,193.30 L390.55,193.68 L390.55,194.06 L390.55,194.44 L390.55,194.82 L390.55,195.20 L390.55,195.57 L390.55,195.95 L390.55,196.33 L390.55,196.71 L390.55,197.09 L390.55,197.47 L390.55,197.85 L390.55,198.22 L390.55,198.60 L390.55,198.98 L390.55,199.36 L390.55,199.74 L390.55,200.12 L390.55,200.49 L390.55,200.87 L390.55,201.25 L390.55,201.63 L390.54,202.01 L390.54,202.39 L390.54,202.77 L390.54,203.14 L390.54,203.52 L390.54,203.90 L390.54,204.28 L390.54,204.66 L390.53,205.04 L390.53,205.41 L390.53,205.79 L390.53,206.17 L390.53,206.55 L390.53,206.93 L390.52,207.31 L390.52,207.68 L390.52,208.06 L390.52,208.44 L390.51,208.82 L390.51,209.20 L390.51,209.57 L390.51,209.95 L390.50,210.33 L390.50,210.71 L390.50,211.09 L390.49,211.47 L390.49,211.84 L390.49,212.22 L390.48,212.60 L390.48,212.98 L390.48,213.36 L390.47,213.73 L390.47,214.11 L390.47,214.49 L390.46,214.87 L390.46,215.25 L390.45,215.62 L390.45,216.00 L390.45,216.38 L390.44,216.76 L390.44,217.14 L390.43,217.51 L390.43,217.89 L390.42,218.27 L390.42,218.65 L390.41,219.03 L390.41,219.40 L390.40,219.78 L390.40,220.16 L390.39,220.54 L390.39,220.91 L390.38,221.29 L390.37,221.67 L390.37,222.05 L390.36,222.43 L390.36,222.80 L390.35,223.18 L390.34,223.56 L390.34,223.94 L390.33,224.31 L390.32,224.69 L390.32,225.07 L390.31,225.45 L390.30,225.82 L390.30,226.20 L390.29,226.58 L390.28,226.96 L390.27,227.33 L390.27,227.71 L390.26,228.09 L390.25,228.47 L390.24,228.84 L390.24,229.22 L390.23,229.60 L390.22,229.98 L390.22,231.50" stroke="#303099" stroke-width="3.0" stroke-dasharray="22.6 4.35 8.9 4.35" stroke-dashoffset="-0.3"/>
</g>
<g stroke="#6a6a6a" stroke-width="0.9" fill="none">
<path d="M230.5,32.05 V239.1" stroke="#787878"/>
<rect x="62.55" y="32.05" width="334.95" height="207.05"/>
<path d="M69.50,239.1 v-3.9"/>
<path d="M69.50,32.05 v3.9"/>
<path d="M85.55,239.1 v-2.3"/>
<path d="M85.55,32.05 v2.3"/>
<path d="M101.61,239.1 v-2.3"/>
<path d="M101.61,32.05 v2.3"/>
<path d="M117.67,239.1 v-2.3"/>
<path d="M117.67,32.05 v2.3"/>
<path d="M133.72,239.1 v-2.3"/>
<path d="M133.72,32.05 v2.3"/>
<path d="M149.78,239.1 v-3.9"/>
<path d="M149.78,32.05 v3.9"/>
<path d="M165.83,239.1 v-2.3"/>
<path d="M165.83,32.05 v2.3"/>
<path d="M181.88,239.1 v-2.3"/>
<path d="M181.88,32.05 v2.3"/>
<path d="M197.94,239.1 v-2.3"/>
<path d="M197.94,32.05 v2.3"/>
<path d="M214.00,239.1 v-2.3"/>
<path d="M214.00,32.05 v2.3"/>
<path d="M230.05,239.1 v-3.9"/>
<path d="M230.05,32.05 v3.9"/>
<path d="M246.11,239.1 v-2.3"/>
<path d="M246.11,32.05 v2.3"/>
<path d="M262.16,239.1 v-2.3"/>
<path d="M262.16,32.05 v2.3"/>
<path d="M278.22,239.1 v-2.3"/>
<path d="M278.22,32.05 v2.3"/>
<path d="M294.27,239.1 v-2.3"/>
<path d="M294.27,32.05 v2.3"/>
<path d="M310.33,239.1 v-3.9"/>
<path d="M310.33,32.05 v3.9"/>
<path d="M326.38,239.1 v-2.3"/>
<path d="M326.38,32.05 v2.3"/>
<path d="M342.44,239.1 v-2.3"/>
<path d="M342.44,32.05 v2.3"/>
<path d="M358.49,239.1 v-2.3"/>
<path d="M358.49,32.05 v2.3"/>
<path d="M374.55,239.1 v-2.3"/>
<path d="M374.55,32.05 v2.3"/>
<path d="M390.60,239.1 v-3.9"/>
<path d="M390.60,32.05 v3.9"/>
<path d="M62.55,230.40 h3.9"/>
<path d="M397.5,230.40 h-3.9"/>
<path d="M62.55,221.38 h2.3"/>
<path d="M397.5,221.38 h-2.3"/>
<path d="M62.55,212.36 h2.3"/>
<path d="M397.5,212.36 h-2.3"/>
<path d="M62.55,203.34 h2.3"/>
<path d="M397.5,203.34 h-2.3"/>
<path d="M62.55,194.32 h3.9"/>
<path d="M397.5,194.32 h-3.9"/>
<path d="M62.55,185.30 h2.3"/>
<path d="M397.5,185.30 h-2.3"/>
<path d="M62.55,176.28 h2.3"/>
<path d="M397.5,176.28 h-2.3"/>
<path d="M62.55,167.26 h2.3"/>
<path d="M397.5,167.26 h-2.3"/>
<path d="M62.55,158.24 h3.9"/>
<path d="M397.5,158.24 h-3.9"/>
<path d="M62.55,149.22 h2.3"/>
<path d="M397.5,149.22 h-2.3"/>
<path d="M62.55,140.20 h2.3"/>
<path d="M397.5,140.20 h-2.3"/>
<path d="M62.55,131.18 h2.3"/>
<path d="M397.5,131.18 h-2.3"/>
<path d="M62.55,122.16 h3.9"/>
<path d="M397.5,122.16 h-3.9"/>
<path d="M62.55,113.14 h2.3"/>
<path d="M397.5,113.14 h-2.3"/>
<path d="M62.55,104.12 h2.3"/>
<path d="M397.5,104.12 h-2.3"/>
<path d="M62.55,95.10 h2.3"/>
<path d="M397.5,95.10 h-2.3"/>
<path d="M62.55,86.08 h3.9"/>
<path d="M397.5,86.08 h-3.9"/>
<path d="M62.55,77.06 h2.3"/>
<path d="M397.5,77.06 h-2.3"/>
<path d="M62.55,68.04 h2.3"/>
<path d="M397.5,68.04 h-2.3"/>
<path d="M62.55,59.02 h2.3"/>
<path d="M397.5,59.02 h-2.3"/>
<path d="M62.55,50.00 h3.9"/>
<path d="M397.5,50.00 h-3.9"/>
<path d="M62.55,40.98 h2.3"/>
<path d="M397.5,40.98 h-2.3"/>
</g>
<g opacity="0.999" font-family="'Liberation Serif','DejaVu Serif',serif" font-weight="bold" font-size="20" fill="#000">
<g stroke="#000" stroke-width="0.25">
<text x="57.9" y="237.60" text-anchor="end">0.0</text>
<text x="57.9" y="201.52" text-anchor="end">0.2</text>
<text x="57.9" y="165.44" text-anchor="end">0.4</text>
<text x="57.9" y="129.36" text-anchor="end">0.6</text>
<text x="57.9" y="93.28" text-anchor="end">0.8</text>
<text x="57.9" y="57.20" text-anchor="end">1.0</text>
<text x="230.15" y="261.9" text-anchor="middle">0.0</text>
<text x="310.43" y="261.9" text-anchor="middle">0.5</text>
<text x="390.70" y="261.9" text-anchor="middle">1.0</text>
<text transform="translate(49.45,263.3) scale(1.06,1)" stroke="#000" stroke-width="0.9">−</text><text x="64.10" y="261.9">1.0</text>
<text transform="translate(129.73,263.3) scale(1.06,1)" stroke="#000" stroke-width="0.9">−</text><text x="143.68" y="261.9">0.5</text>
</g>
<text transform="translate(224.6,293.2) scale(1.2,0.94)" class="it">β</text>
<text x="77.96" y="82.8" class="it">e</text>
<text x="78.8" y="83.5" font-size="22">ˆ</text>
<text x="86.5" y="86.0" class="it" font-size="14.5">i</text>
<text transform="translate(91.87,86.2) scale(1.13,1)">=</text>
<text x="105.06" y="82.8" class="it">e</text>
<text transform="translate(114.2,85.6) scale(0.743,0.66)" font-family="'DejaVu Sans',sans-serif" font-size="14">⊥</text>
<text transform="translate(19.1,181.9) rotate(-90)">Re <tspan dx="0">[</tspan><tspan class="it" dx="0.5">k</tspan><tspan class="it" dx="1.1" dy="3" font-size="14.5">t</tspan><tspan dx="0.8" dy="-3">]</tspan><tspan dx="0.4" dy="1.0"> · </tspan><tspan class="it" dx="-0.6" dy="-1.0">P</tspan><tspan class="it" dx="-0.4" dy="3" font-size="14.5">t</tspan></text>
</g>
</svg>
</body></html>
